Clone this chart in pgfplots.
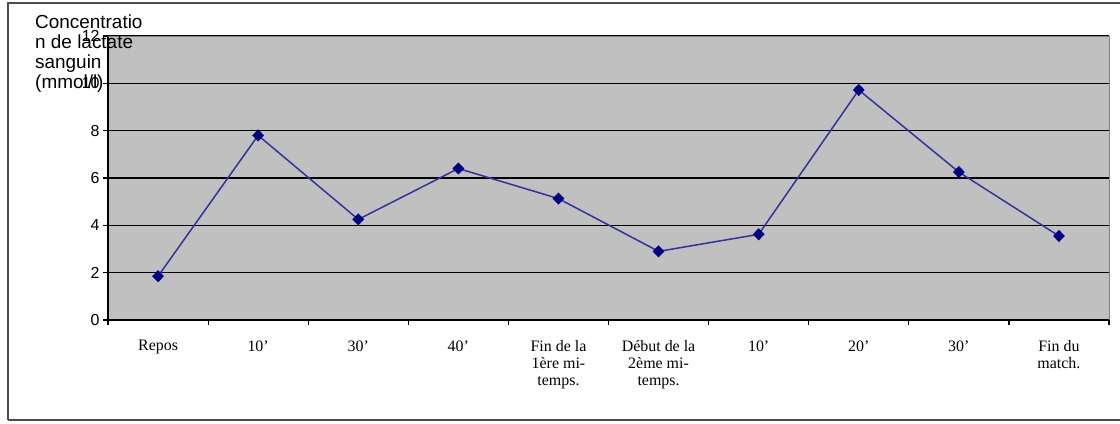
\documentclass[border=0pt]{standalone}
\usepackage{pgfplots}
\pgfplotsset{compat=1.18}
\usepackage{fontspec}
\setmainfont{Liberation Serif}
\newfontfamily\arialf{Liberation Sans}
\definecolor{plotgray}{HTML}{C0C0C0}
\definecolor{navyline}{HTML}{333399}
\definecolor{navymark}{HTML}{000080}
\begin{document}
\begin{tikzpicture}[x=1bp,y=1bp]
\useasboundingbox (0,0) rectangle (1120,423);
\draw[line width=1.5bp, black!70] (8,3) -- (8,420) -- (1120,420);
\draw[line width=1.5bp, black!70] (8,3) -- (1120,3);
\begin{axis}[
  at={(108bp,103bp)}, anchor=south west,
  scale only axis, width=1001bp, height=284bp,
  xmin=0, xmax=10, ymin=0, ymax=12,
  axis background/.style={fill=plotgray},
  axis x line*=bottom, axis y line*=left,
  axis line style={line width=1.4bp, black},
  xtick={0,1,...,10},
  x tick label as interval,
  xticklabels={Repos,10',30',40',{Fin de la\\1ère mi-\\temps.},{Début de la\\2ème mi-\\temps.},10',20',30',{Fin du\\match.}},
  x tick label style={font=\fontsize{16}{17}\selectfont, align=center, anchor=north, yshift=-12bp},
  ytick={0,2,...,12},
  y tick label style={font=\arialf\fontsize{16}{18}\selectfont},
  /pgf/number format/assume math mode=true,
  tick align=outside,
  major tick length=5bp,
  tick style={line width=1.2bp, black},
  ymajorgrids,
  grid style={line width=1.2bp, black},
  clip=false,
]
\addplot[navyline, line width=1.5bp, mark=diamond*, mark size=5bp, mark options={fill=navymark, draw=navymark, xscale=1.3}]
coordinates {(0.5,1.85) (1.5,7.8) (2.5,4.25) (3.5,6.4) (4.5,5.13) (5.5,2.9) (6.5,3.62) (7.5,9.72) (8.5,6.25) (9.5,3.55)};
\draw[gray, line width=0.8bp] (axis cs:0,12) -- (axis cs:10,12) -- (axis cs:10,0);
\end{axis}
\node[anchor=north west, align=left, font=\arialf\fontsize{19}{20}\selectfont, inner sep=0pt] at (35,408) {Concentratio\\n de lactate\\sanguin\\(mmol/l)};
\end{tikzpicture}
\end{document}
